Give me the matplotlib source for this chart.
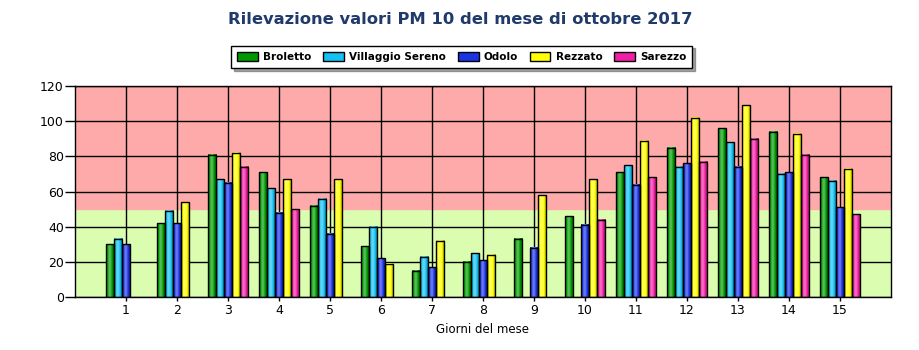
import numpy as np
import matplotlib.pyplot as plt
from matplotlib.patches import Patch
from matplotlib.colors import to_rgb

days = list(range(1, 16))
nan = np.nan

broletto = [30, 42, 81, 71, 52, 29, 15, 20, 33, 46, 71, 85, 96, 94, 68]
villaggio = [33, 49, 67, 62, 56, 40, 23, 25, nan, nan, 75, 74, 88, 70, 66]
odolo = [30, 42, 65, 48, 36, 22, 17, 21, 28, 41, 64, 76, 74, 71, 51]
rezzato = [nan, 54, 82, 67, 67, 19, 32, 24, 58, 67, 89, 102, 109, 93, 73]
sarezzo = [nan, nan, 74, 50, nan, nan, nan, nan, nan, 44, 68, 77, 90, 81, 47]

series = [
    ("Broletto", broletto, "#009a00"),
    ("Villaggio Sereno", villaggio, "#12c2f2"),
    ("Odolo", odolo, "#1b33e6"),
    ("Rezzato", rezzato, "#ffff00"),
    ("Sarezzo", sarezzo, "#f21ea5"),
]

limite = 50


def cylinder(color, n=40):
    # horizontal shading: darker edges, highlight slightly left of centre
    base = np.array(to_rgb(color))
    x = np.linspace(0, 1, n)
    p = 0.65 * np.exp(-((x - 0.42) / 0.3) ** 2) - 0.3
    out = np.empty((1, n, 3))
    for i, v in enumerate(p):
        if v < 0:
            out[0, i] = base * (1 + v)
        else:
            out[0, i] = base + (1 - base) * v
    return out


fig = plt.figure(figsize=(9.2, 3.5), dpi=100)
ax = fig.add_axes([0.0815, 0.1514, 0.887, 0.6026])

ax.axhspan(0, limite, color="#dbfdb0", zorder=0)
ax.axhspan(limite, 120, color="#ffaaaa", zorder=0)

width = 0.16
for k, (name, vals, col) in enumerate(series):
    img = cylinder(col)
    for d, v in zip(days, vals):
        if np.isnan(v):
            continue
        x0 = d - 2.5 * width + k * width
        ax.imshow(img, extent=(x0, x0 + width, 0, v), aspect="auto",
                  interpolation="bilinear", zorder=2)
        ax.add_patch(plt.Rectangle((x0, 0), width, v, fill=False,
                                   edgecolor="black", lw=1, zorder=3))

ax.set_xlim(0, 16)
ax.set_ylim(0, 120)
ax.set_xticks(days)
ax.set_yticks(range(0, 121, 20))
ax.grid(True, color="black", lw=1)
ax.set_axisbelow(True)
for s in ax.spines.values():
    s.set_linewidth(1)
ax.tick_params(axis="y", direction="out", length=7, width=1, labelsize=9, pad=1)
ax.tick_params(axis="x", direction="out", length=3, width=1, labelsize=9, pad=2)
ax.set_xlabel("Giorni del mese", fontsize=8.5, labelpad=4)

fig.text(0.5, 0.943, "Rilevazione valori PM 10 del mese di ottobre 2017",
         ha="center", va="center", fontsize=11.8, fontweight="bold", color="#1f3a6b")

handles = [Patch(facecolor=c, edgecolor="black", label=n) for n, _, c in series]
leg = fig.legend(handles=handles, loc="center", bbox_to_anchor=(0.502, 0.837),
                 ncol=5, fontsize=7.5, frameon=True, fancybox=False, shadow=True,
                 handlelength=2.0, handleheight=1.0, columnspacing=1.1,
                 borderpad=0.6, handletextpad=0.5)
leg.get_frame().set_edgecolor("black")
leg.get_frame().set_linewidth(1)
for t in leg.get_texts():
    t.set_fontweight("semibold")

fig.savefig("out.png", dpi=100)
